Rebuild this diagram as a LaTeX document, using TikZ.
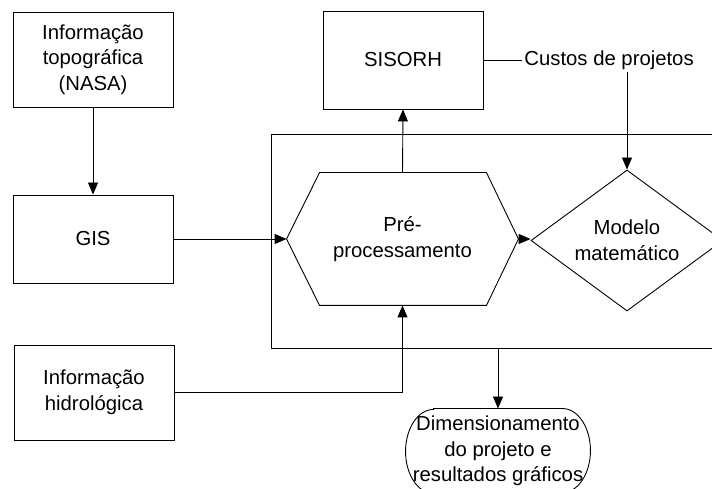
\documentclass[tikz,border=0pt]{standalone}
\usepackage{fontspec}
\setmainfont{Liberation Sans}
\usetikzlibrary{arrows.meta,shapes.geometric}

\begin{document}
\begin{tikzpicture}[x=1pt,y=1pt,line width=0.9pt,font=\fontsize{20.3}{25.5}\selectfont]
\tikzstyle{box}=[draw,rectangle,align=center,minimum width=160,inner sep=0pt]
\tikzstyle{arr}=[-{Triangle[length=12pt,width=10pt]}]
\useasboundingbox (0,0) rectangle (712,489);
\foreach \name/\point/\size/\txt in {
	topo/{93,429.5}/95/{Informação\\topográfica\\(NASA)},
	gis/{93,250}/88/{GIS},
	hidro/{94,96.5}/95/{Informação\\hidrológica},
	sisorh/{403,429}/98/{SISORH}}
	\node[box,minimum height=\size] (\name) at (\point) {\txt};
% big frame round the model
\node[draw,anchor=north west,minimum width=480,minimum height=214,inner sep=0pt] (frame) at (271,355) {};
\node[minimum width=231,minimum height=132,inner sep=0pt,align=center] (pre) at (402.5,250) {Pré-\\processamento};
\draw (pre.west) -- ([xshift=33pt]pre.north west) -- ([xshift=-32pt]pre.north east) -- (pre.east)
	-- ([xshift=-32pt]pre.south east) -- ([xshift=33pt]pre.south west) -- cycle;
\node[draw,diamond,aspect=1.36,minimum width=192,minimum height=141,inner sep=0pt,align=center] (modelo) at (627,248.5) {Modelo\\matemático};
\node[anchor=west,inner sep=2pt] (custos) at (522,429) {Custos de projetos};
\node[minimum width=184,minimum height=84,inner sep=0pt,align=center] (result) at (498,38) {Dimensionamento\\do projeto e\\resultados gráficos};
\draw ([xshift=28pt]result.north west) -- ([xshift=-28pt]result.north east)
	arc[start angle=90,end angle=-90,x radius=28pt,y radius=42pt]
	-- ([xshift=28pt]result.south west)
	arc[start angle=270,end angle=90,x radius=28pt,y radius=42pt] -- cycle;
% connectors
\draw[arr] (topo.south) -- (gis.north);
\draw[arr] (gis.east) -- (pre.west);
\draw[arr] (pre.north) -- (sisorh.south);
\draw[arr] (hidro.east) -| (pre.south);
\draw[arr] (pre.east) -- (pre.east -| modelo.west);
\draw (sisorh.east) -- (custos.west);
\draw[arr] (custos.south -| modelo.north) -- (modelo.north);
\draw[arr] (frame.south -| result.north) -- (result.north);
\end{tikzpicture}
\end{document}
